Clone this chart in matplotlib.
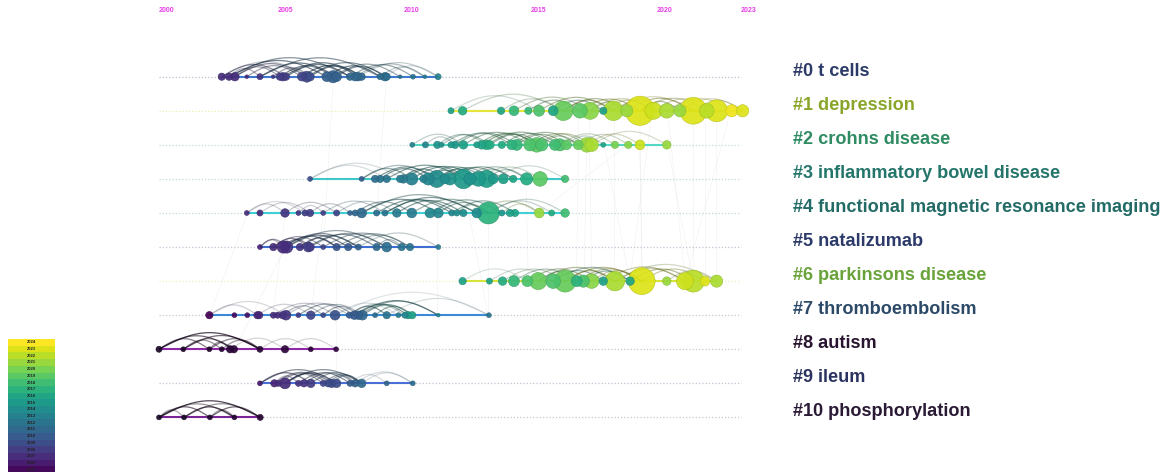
import numpy as np
import matplotlib
matplotlib.use("Agg")
import matplotlib.pyplot as plt
import matplotlib.colors as mcolors
from matplotlib.collections import LineCollection

# ---------------- data ----------------
cluster_labels = ["#0 t cells", "#1 depression", "#2 crohns disease",
                  "#3 inflammatory bowel disease",
                  "#4 functional magnetic resonance imaging", "#5 natalizumab",
                  "#6 parkinsons disease", "#7 thromboembolism", "#8 autism",
                  "#9 ileum", "#10 phosphorylation"]
axis_years = [2000, 2005, 2010, 2015, 2020, 2023]
colorbar_years = list(range(2024, 2004, -1))

# node publication years, node sizes (diameter estimate), colour years, links (i, j, strength)
c0_years = [2002.48, 2002.77, 2003.00, 2003.47, 2003.99, 2004.51, 2004.78, 2004.90, 2005.02, 2005.64,
            2005.84, 2005.97, 2006.63, 2006.88, 2007.02, 2007.55, 2007.75, 2007.87, 2008.01, 2008.74,
            2008.93, 2009.00, 2009.53, 2010.04, 2010.51, 2011.03]
c0_size = [6, 6, 7, 3, 5, 3, 6, 7, 6, 7, 9, 7, 8, 10, 8, 6, 7, 7, 6, 5, 7, 6, 3, 4, 3, 5]
c0_cyear = [2007, 2007, 2007, 2007, 2007.5, 2008, 2008, 2008, 2008, 2008.5, 2008.5, 2009, 2010.5,
            2010.5, 2010.5, 2011, 2011, 2011, 2011, 2011.5, 2011.5, 2011.5, 2012, 2012, 2012.5, 2013]
c0_links = [(0, 8, .6), (1, 12, .7), (2, 10, .6), (4, 14, .7), (6, 13, .7), (7, 18, .7), (9, 17, .8),
            (10, 21, .6), (12, 19, .7), (13, 22, .5), (14, 20, .6), (15, 23, .5), (16, 24, .4),
            (3, 9, .5), (5, 11, .5), (11, 18, .7), (8, 15, .7), (17, 25, .3), (19, 24, .3), (2, 6, .5),
            (1, 4, .4), (0, 11, .25), (20, 25, .2), (1, 15, .6), (4, 19, .6)]

c1_years = [2011.54, 2012.00, 2013.52, 2014.03, 2014.60, 2015.02, 2015.58, 2015.98, 2016.64, 2017.04,
            2017.56, 2017.96, 2018.49, 2019.01, 2019.54, 2020.07, 2020.59, 2021.12, 2021.65, 2022.04,
            2022.64, 2023.07]
c1_size = [5, 7, 6, 8, 6, 9, 8, 16, 12, 14, 6, 16, 10, 24, 14, 12, 10, 22, 12, 18, 10, 10]
c1_cyear = [2015.5, 2016.5, 2016, 2017.5, 2017.5, 2018.5, 2016, 2019.5, 2019, 2020.5, 2015.5, 2021.5,
            2021, 2023, 2022.5, 2021.5, 2021, 2023, 2022, 2023, 2023.5, 2023]
c1_links = [(0, 5, .25), (1, 7, .3), (3, 9, .4), (4, 8, .5), (5, 11, .5), (6, 10, .5), (7, 12, .5),
            (8, 13, .5), (9, 12, .4), (7, 11, .5), (11, 15, .4), (12, 17, .5), (13, 18, .4),
            (14, 19, .3), (15, 20, .3), (13, 16, .5), (16, 21, .3), (10, 14, .4), (2, 7, .3),
            (17, 21, .3), (9, 14, .35), (11, 17, .3)]

c2_years = [2010.01, 2010.53, 2011.00, 2011.17, 2011.54, 2011.70, 2012.03, 2012.56, 2012.75, 2012.95,
            2013.08, 2013.55, 2013.94, 2014.14, 2014.66, 2014.93, 2015.13, 2015.65, 2015.85, 2016.11,
            2016.57, 2016.91, 2017.10, 2017.56, 2018.02, 2018.55, 2019.01, 2020.07]
c2_size = [4, 5, 6, 4, 5, 6, 7, 5, 7, 8, 7, 6, 8, 9, 10, 12, 10, 9, 10, 8, 8, 12, 11, 4, 6, 6, 8, 7]
c2_cyear = [2013, 2013.5, 2014.5, 2014.5, 2015, 2015, 2015.5, 2015.5, 2016, 2016.5, 2016.5, 2016.5,
            2017, 2017.5, 2018.5, 2019, 2018.5, 2018, 2018.5, 2019, 2019.5, 2021, 2021.5, 2016, 2020,
            2020.5, 2022.5, 2021]
c2_links = [(0, 6, .3), (1, 5, .3), (2, 9, .4), (4, 12, .5), (6, 14, .5), (8, 15, .6), (9, 17, .5),
            (11, 18, .5), (12, 20, .5), (13, 19, .5), (14, 21, .4), (15, 22, .4), (16, 20, .4),
            (18, 24, .3), (20, 25, .3), (21, 26, .3), (22, 27, .25), (19, 23, .3), (3, 10, .4),
            (10, 16, .5), (5, 13, .5), (7, 15, .5)]

c3_years = [2005.97, 2008.01, 2008.54, 2008.74, 2009.00, 2009.53, 2009.66, 2009.99, 2010.45, 2010.64,
            2010.98, 2011.30, 2011.50, 2012.03, 2012.29, 2012.62, 2012.95, 2013.21, 2013.61, 2014.00,
            2014.53, 2015.06, 2016.05]
c3_size = [4, 4, 6, 6, 6, 6, 7, 10, 6, 10, 14, 8, 10, 16, 10, 12, 14, 8, 8, 6, 10, 12, 6]
c3_cyear = [2009, 2010, 2011.5, 2012, 2012, 2012.5, 2012.5, 2013, 2013, 2013.5, 2014, 2014, 2014.5,
            2015, 2014.5, 2015, 2015.5, 2015, 2015.5, 2016, 2016.5, 2019, 2018]
c3_links = [(0, 6, .2), (0, 4, .2), (1, 7, .5), (2, 10, .6), (3, 9, .6), (4, 13, .6), (5, 11, .6),
            (6, 14, .6), (7, 15, .6), (8, 16, .5), (9, 13, .6), (10, 17, .5), (11, 18, .5),
            (12, 19, .5), (13, 20, .4), (14, 19, .4), (15, 21, .3), (16, 20, .4), (17, 22, .25),
            (10, 15, .5), (1, 10, .4)]

c4_years = [2003.47, 2003.99, 2004.98, 2005.51, 2005.77, 2005.97, 2006.49, 2007.02, 2007.55, 2007.75,
            2008.01, 2008.60, 2008.93, 2009.40, 2009.99, 2010.71, 2011.04, 2011.57, 2011.77, 2012.03,
            2012.56, 2013.02, 2013.55, 2013.87, 2014.07, 2015.03, 2015.52, 2016.05]
c4_size = [4, 5, 7, 4, 5, 6, 4, 5, 4, 5, 8, 5, 5, 7, 8, 8, 8, 5, 5, 6, 8, 18, 5, 6, 6, 8, 5, 7]
c4_cyear = [2007, 2007, 2007.5, 2007.5, 2008, 2008, 2008, 2008.5, 2010.5, 2011, 2011, 2011.5, 2012,
            2012.5, 2012.5, 2013.5, 2013.5, 2013.5, 2014, 2014, 2014, 2017, 2015, 2015.5, 2016, 2021,
            2016.5, 2018]
c4_links = [(0, 2, .25), (1, 5, .25), (2, 7, .3), (3, 6, .25), (5, 8, .3), (0, 4, .2), (7, 13, .3),
            (10, 16, .6), (11, 17, .6), (12, 20, .6), (13, 19, .6), (14, 21, .5), (15, 22, .5),
            (16, 21, .5), (17, 24, .5), (18, 21, .4), (20, 25, .35), (21, 26, .3), (21, 27, .3),
            (22, 25, .3), (9, 14, .5), (6, 12, .3), (10, 20, .5), (12, 18, .6)]

c5_years = [2003.99, 2004.52, 2004.91, 2005.05, 2005.57, 2005.90, 2005.97, 2006.49, 2007.02, 2007.48,
            2007.88, 2008.60, 2009.00, 2009.59, 2009.92, 2011.04]
c5_size = [4, 6, 10, 10, 6, 8, 7, 4, 6, 6, 5, 6, 8, 6, 6, 4]
c5_cyear = [2006.5, 2007, 2007, 2007.5, 2007.5, 2008, 2008, 2008.5, 2009.5, 2010, 2010.5, 2011,
            2011.5, 2012, 2012, 2012.5]
c5_links = [(0, 3, .5), (1, 5, .6), (2, 8, .7), (3, 9, .7), (1, 7, .5), (2, 6, .6), (4, 10, .6),
            (5, 11, .6), (6, 12, .5), (7, 13, .5), (8, 14, .5), (3, 12, .5), (9, 14, .4),
            (10, 15, .3), (0, 2, .4), (4, 8, .6), (11, 13, .4), (2, 10, .6)]

c6_years = [2012.00, 2013.06, 2013.58, 2014.03, 2014.56, 2014.99, 2015.58, 2016.05, 2016.51, 2016.77,
            2017.10, 2017.56, 2018.02, 2018.62, 2019.08, 2020.07, 2020.79, 2021.12, 2021.58, 2022.04]
c6_size = [6, 5, 7, 9, 9, 14, 12, 18, 9, 10, 12, 7, 16, 7, 22, 7, 14, 18, 8, 10]
c6_cyear = [2015.5, 2015.5, 2016.5, 2017.5, 2018.5, 2019.5, 2018.5, 2019.5, 2017, 2018.5, 2020.5,
            2015.5, 2021.5, 2016, 2023, 2021, 2022.5, 2022, 2023, 2021.5]
c6_links = [(0, 4, .2), (1, 6, .25), (3, 8, .4), (4, 10, .5), (5, 12, .5), (6, 11, .5), (7, 12, .5),
            (8, 14, .5), (9, 13, .5), (7, 14, .5), (10, 14, .4), (12, 16, .4), (13, 17, .5),
            (14, 18, .4), (15, 19, .3), (12, 19, .3), (11, 16, .4), (5, 9, .5), (2, 7, .3),
            (6, 13, .45)]

c7_years = [2001.99, 2002.98, 2003.49, 2003.89, 2003.96, 2004.52, 2004.69, 2004.89, 2005.02, 2005.51,
            2006.00, 2006.49, 2006.96, 2007.52, 2007.72, 2007.88, 2008.04, 2008.54, 2009.00, 2009.46,
            2009.72, 2009.85, 2010.01, 2011.04, 2013.04]
c7_size = [6, 4, 4, 6, 6, 5, 5, 6, 8, 4, 7, 4, 8, 5, 7, 7, 8, 4, 6, 4, 5, 6, 6, 3, 4]
c7_cyear = [2004.5, 2005, 2005.5, 2006.5, 2006.5, 2007, 2007, 2007.5, 2007.5, 2008, 2008.5, 2009,
            2009.5, 2010, 2010, 2010.5, 2011, 2011.5, 2012, 2012.5, 2013.5, 2015, 2015.5, 2013.5, 2012]
c7_links = [(0, 3, .25), (0, 8, .2), (3, 10, .25), (5, 12, .3), (8, 13, .3), (10, 16, .4),
            (12, 19, .2), (13, 20, .3), (16, 22, .6), (15, 23, .5), (18, 24, .2), (12, 24, .15),
            (14, 21, .6), (17, 22, .5), (13, 18, .6), (11, 15, .5), (14, 23, .6), (7, 11, .4),
            (9, 14, .5)]

c8_years = [2000.00, 2000.96, 2001.99, 2002.48, 2002.81, 2002.96, 2003.99, 2004.98, 2006.00, 2007.00]
c8_size = [5, 4, 4, 4, 6, 6, 5, 6, 4, 4]
c8_cyear = [2000, 2000, 2000.5, 2001, 2001.5, 2001.5, 2001.5, 2002, 2002, 2002.5]
c8_links = [(0, 6, .85), (0, 5, .7), (1, 6, .7), (2, 6, .6), (1, 3, .5), (0, 2, .6), (2, 4, .5),
            (3, 6, .5), (4, 7, .2), (6, 8, .2), (7, 9, .2), (1, 5, .5)]

c9_years = [2003.99, 2004.56, 2004.72, 2004.98, 2005.51, 2005.73, 2006.00, 2006.49, 2006.69, 2006.83,
            2007.02, 2007.55, 2007.75, 2008.01, 2009.00, 2010.03]
c9_size = [4, 6, 5, 9, 5, 6, 7, 5, 6, 7, 7, 5, 6, 7, 4, 4]
c9_cyear = [2006, 2006.5, 2007, 2007, 2007.5, 2007.5, 2008, 2008.5, 2009, 2009, 2009, 2010, 2010.5,
            2011, 2011, 2011.5]
c9_links = [(0, 6, .7), (0, 10, .6), (1, 8, .6), (2, 7, .5), (3, 9, .7), (3, 13, .6), (4, 11, .6),
            (5, 12, .5), (6, 13, .5), (7, 13, .5), (8, 12, .5), (1, 4, .4), (9, 13, .5), (3, 10, .6),
            (11, 14, .2), (12, 15, .2), (13, 15, .2)]

c10_years = [2000.00, 2000.99, 2002.01, 2002.98, 2004.00]
c10_size = [4, 4, 4, 4, 5]
c10_cyear = [2000, 2000, 2000.5, 2001, 2001]
c10_links = [(0, 4, .85), (0, 2, .7), (1, 3, .8), (2, 4, .7), (1, 4, .5), (0, 3, .5), (0, 1, .4),
             (2, 3, .4)]

# faint links between clusters: (cluster a, year a, cluster b, year b)
cross_links = [(1, 2016.6, 6, 2016.5), (1, 2017.0, 6, 2017.1), (1, 2018.0, 6, 2018.0),
               (1, 2019.0, 6, 2019.1), (1, 2019.5, 6, 2018.6), (1, 2020.1, 6, 2020.8),
               (1, 2021.1, 6, 2021.1), (1, 2021.6, 6, 2021.6), (1, 2022.0, 6, 2022.0),
               (1, 2022.6, 6, 2020.8), (2, 2016.9, 6, 2016.8), (2, 2017.6, 6, 2018.6),
               (2, 2019.0, 6, 2019.1), (2, 2018.5, 4, 2015.0), (2, 2020.1, 6, 2021.1),
               (3, 2012.0, 7, 2013.0), (3, 2011.0, 7, 2011.0), (4, 2006.5, 7, 2006.0),
               (4, 2005.0, 7, 2004.5), (4, 2003.5, 7, 2002.0), (5, 2005.0, 8, 2003.0),
               (5, 2007.0, 9, 2007.0), (0, 2006.9, 5, 2006.5), (0, 2009.0, 4, 2008.6),
               (4, 2013.0, 7, 2013.0), (3, 2014.5, 6, 2014.6)]

clusters = [
    (c0_years, c0_size, c0_cyear, c0_links),
    (c1_years, c1_size, c1_cyear, c1_links),
    (c2_years, c2_size, c2_cyear, c2_links),
    (c3_years, c3_size, c3_cyear, c3_links),
    (c4_years, c4_size, c4_cyear, c4_links),
    (c5_years, c5_size, c5_cyear, c5_links),
    (c6_years, c6_size, c6_cyear, c6_links),
    (c7_years, c7_size, c7_cyear, c7_links),
    (c8_years, c8_size, c8_cyear, c8_links),
    (c9_years, c9_size, c9_cyear, c9_links),
    (c10_years, c10_size, c10_cyear, c10_links),
]

# ---------------- style ----------------
W, H = 1166, 472
PX_PER_YEAR = 25.3
X0_PX = 159.0          # pixel position of year 2000
ROW0_PX, ROW_STEP = 76.7, 34.07
LABEL_X_PX = 793
NODE_SCALE = 1.22

label_colors = ['#2b3a67', '#8aa62a', '#2e8b62', '#24756a', '#236b66', '#2c3a6a',
                '#6aa33a', '#2c4a68', '#2a1530', '#2b3460', '#2a1a35']
line_colors = ['#3f78d0', '#e6e63a', '#56d8c2', '#3ec8c8', '#3fd0d6', '#3f6ed2',
               '#d4e43a', '#3a8ad8', '#8e2aa8', '#4a6fd6', '#7a2595']
base_colors = ['#b9c0d0', '#eeeeb0', '#bfe0d0', '#c0d8d8', '#c0d8d8', '#c0c4d4',
               '#eef0b8', '#c0c8d4', '#d0c0d4', '#c0c4d4', '#d0c0d4']

VMIN, VMAX = 2004.5, 2024.0
cmap = plt.get_cmap('viridis')
DARK = np.array(mcolors.to_rgb('#1c0828'))


def year_color(cy):
    if cy >= VMIN:
        return np.array(cmap(min(1.0, (cy - VMIN) / (VMAX - VMIN)))[:3])
    t = max(0.0, (cy - 2000.0) / (VMIN - 2000.0))
    return DARK * (1 - t) + np.array(cmap(0.0)[:3]) * t


def row_y(i):
    return ROW0_PX + ROW_STEP * i


plt.rcParams['font.family'] = ['Liberation Sans', 'DejaVu Sans']

fig = plt.figure(figsize=(W / 100, H / 100), dpi=100)
ax = fig.add_axes([0, 0, 1, 1])
ax.set_xlim(2000 - X0_PX / PX_PER_YEAR, 2000 + (W - X0_PX) / PX_PER_YEAR)
ax.set_ylim(H, 0)
ax.axis('off')

# faint cross-cluster links
segs = []
for ca, ya, cb, yb in cross_links:
    segs.append([(ya, row_y(ca)), (yb, row_y(cb))])
ax.add_collection(LineCollection(segs, colors='#d6d6d6', linewidths=0.4, alpha=0.35, zorder=1))

# baselines
for i in range(len(clusters)):
    ax.plot([axis_years[0], axis_years[-1]], [row_y(i), row_y(i)], linestyle=(0, (1, 1.6)),
            color=base_colors[i], lw=0.9, zorder=1)

t = np.linspace(0, 1, 40)
for i, (yrs, sz, cy, links) in enumerate(clusters):
    yr = row_y(i)
    # cluster line
    ax.plot([min(yrs), max(yrs)], [yr, yr], color=line_colors[i], lw=1.5, zorder=2,
            solid_capstyle='butt')
    # arcs
    arc_segs, arc_cols = [], []
    for a, b, s in links:
        xa, xb = yrs[a], yrs[b]
        span_px = abs(xb - xa) * PX_PER_YEAR
        h = min(0.12 * span_px + 4.5, 28)
        xs = xa + (xb - xa) * t
        ys = yr - h * np.sin(np.pi * t)
        arc_segs.append(np.column_stack([xs, ys]))
        c = year_color(cy[b]) * 0.45
        arc_cols.append((*c, s * 0.85))
    ax.add_collection(LineCollection(arc_segs, colors=arc_cols, linewidths=0.9, zorder=3))
    # nodes, big first
    order = np.argsort(sz)[::-1]
    xs = np.array(yrs)[order]
    ss = (np.array(sz, dtype=float)[order] * NODE_SCALE * 0.72) ** 2
    cols = [year_color(cy[k]) for k in order]
    edges = [np.clip(c * 0.85, 0, 1) for c in cols]
    ax.scatter(xs, np.full(len(xs), yr), s=ss, c=cols, edgecolors=edges, linewidths=0.4,
               alpha=0.93, zorder=4)
    # label
    lx = 2000 + (LABEL_X_PX - X0_PX) / PX_PER_YEAR
    ax.text(lx, yr - 5.5, cluster_labels[i], color=label_colors[i], fontsize=13.1,
            fontweight='bold', ha='left', va='center', zorder=5)

# top year labels
for k, yv in enumerate(axis_years):
    ha = 'left' if k in (0, len(axis_years) - 1) else 'center'
    ax.text(yv, 10, str(yv), color='#e83ee8', fontsize=5, fontweight='bold', ha=ha,
            va='center', zorder=5)

# colour bar (bottom left)
BAND = 6.7
top_px = 339.0
cax = fig.add_axes([8 / W, 0, 47 / W, (H - top_px) / H])
cax.set_xlim(0, 1)
n_vis = (H - top_px) / BAND
cax.set_ylim(2024.5 - n_vis, 2024.5)
cax.axis('off')
for yv in colorbar_years:
    cax.barh(yv, 1, height=1.0, left=0, color=year_color(yv), edgecolor='none')
    cax.text(0.5, yv, str(yv), fontsize=3, fontweight='bold', color='#222222',
             ha='center', va='center')

fig.savefig('out.png', dpi=100)
